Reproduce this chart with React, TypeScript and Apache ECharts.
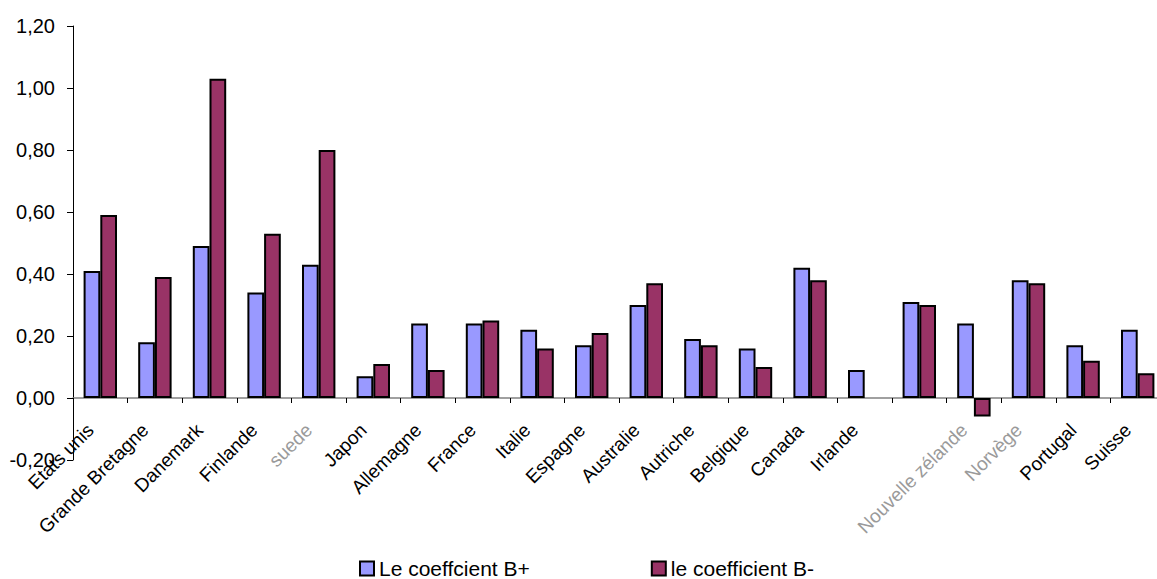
import React, { useEffect, useRef } from "react";
import * as echarts from "echarts";

const categories = [
  "Etats unis", "Grande Bretagne", "Danemark", "Finlande", "suede", "Japon",
  "Allemagne", "France", "Italie", "Espagne", "Australie", "Autriche",
  "Belgique", "Canada", "Irlande", "", "Nouvelle zélande", "Norvège",
  "Portugal", "Suisse",
];
const fadedLabels = ["suede", "Nouvelle zélande", "Norvège"];

const seriesNames = ["Le coeffcient B+", "le coefficient B-"];
const bPlus = [0.41, 0.18, 0.49, 0.34, 0.43, 0.07, 0.24, 0.24, 0.22, 0.17, 0.30, 0.19, 0.16, 0.42, 0.09, 0.31, 0.24, 0.38, 0.17, 0.22];
const bMinus: (number | null)[] = [0.59, 0.39, 1.03, 0.53, 0.80, 0.11, 0.09, 0.25, 0.16, 0.21, 0.37, 0.17, 0.10, 0.38, null, 0.30, -0.06, 0.37, 0.12, 0.08];

const yMin = -0.2;
const yMax = 1.2;
const yStep = 0.2;

const FONT = "'Liberation Sans', Arial, sans-serif";

export default function App() {
  const ref = useRef<HTMLDivElement>(null);
  useEffect(() => {
    document.body.style.margin = "0";
    if (!ref.current) return;
    const chart = echarts.init(ref.current, null, { renderer: "svg" });
    chart.setOption({
      animation: false,
      backgroundColor: "#ffffff",
      textStyle: { fontFamily: FONT },
      grid: {
        left: 73,
        top: 26,
        height: 434,
        width: 1092,
        containLabel: false,
        outerBoundsMode: "none",
      },
      legend: {
        left: 359,
        top: 558,
        padding: 0,
        itemWidth: 14,
        itemHeight: 14,
        itemGap: 121,
        icon: "rect",
        itemStyle: { borderColor: "#000", borderWidth: 2 },
        textStyle: { fontSize: 21, lineHeight: 20, color: "#000", fontFamily: FONT },
        data: seriesNames,
      },
      xAxis: {
        type: "category",
        data: categories.map((c) =>
          fadedLabels.includes(c)
            ? { value: c, textStyle: { color: "#9a9a9a" } }
            : c
        ),
        axisLine: { onZero: true, lineStyle: { color: "#808080", width: 1.5 } },
        axisTick: { show: true, inside: false, length: 5, lineStyle: { color: "#000" } },
        axisLabel: {
          interval: 0,
          rotate: 45,
          margin: -43,
          padding: [0, 14, 0, 0],
          fontSize: 19,
          color: "#000",
          fontFamily: FONT,
        },
        splitLine: { show: false },
      },
      yAxis: {
        type: "value",
        min: yMin,
        max: yMax,
        interval: yStep,
        axisLine: { show: true, lineStyle: { color: "#000", width: 1 } },
        axisTick: { show: true, length: 6, lineStyle: { color: "#000" } },
        axisLabel: {
          fontSize: 20,
          color: "#000",
          margin: 18,
          fontFamily: FONT,
          formatter: (v: number) => v.toFixed(2).replace(".", ","),
        },
        splitLine: { show: false },
      },
      series: [
        {
          name: seriesNames[0],
          type: "bar",
          data: bPlus,
          barWidth: 16.7,
          barGap: "0%",
          itemStyle: { color: "#9999FF", borderColor: "#000", borderWidth: 2 },
        },
        {
          name: seriesNames[1],
          type: "bar",
          data: bMinus,
          barWidth: 16.7,
          barGap: "0%",
          itemStyle: { color: "#993366", borderColor: "#000", borderWidth: 2 },
        },
      ],
    });
    return () => chart.dispose();
  }, []);
  return <div ref={ref} style={{ width: 1157, height: 579 }} />;
}
